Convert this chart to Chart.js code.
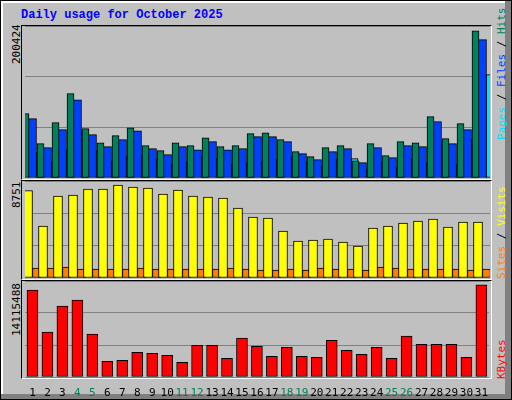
<!DOCTYPE html>
<html>
<head>
<meta charset="utf-8">
<script src="https://cdn.jsdelivr.net/npm/chart.js@4/dist/chart.umd.min.js"></script>
<style>
  body { margin: 0; }
  #page { position: relative; width: 512px; height: 400px; background: #c0c0c0; overflow: hidden;
          box-sizing: border-box; border: 1px solid #000; }
  #edge { position: absolute; left: 0; top: 0; width: 503px; height: 391px;
          border-left: 2px solid #fff; border-top: 2px solid #fff; }
  #rside { position: absolute; right: 0; top: 0; width: 6px; height: 400px; background: #808080; }
  #bside { position: absolute; left: 0; bottom: 0; width: 512px; height: 5px; background: #808080; }
  .frame { position: absolute; left: 20px; width: 469px; border: 1px solid #000; border-right-color: #fff; border-bottom-color: #fff; }
  canvas { position: absolute; }
  .title { position: absolute; left: 20px; top: 7px; font: bold 12px "Liberation Mono", monospace; color: #0000ff; }
  .vlab { position: absolute; font: 11px "DejaVu Sans Mono", monospace; white-space: nowrap;
          transform-origin: left top; transform: rotate(-90deg); }
</style>
</head>
<body>
<div id="page">
  <div id="edge"></div><div id="rside"></div><div id="bside"></div>
  <div class="title">Daily usage for October 2025</div>
  <div class="frame" style="top:24px;height:153px"></div>
  <div class="frame" style="top:179px;height:98px"></div>
  <div class="frame" style="top:279px;height:97px"></div>
  <canvas id="c1" width="465" height="152" style="left:24px;top:25px"></canvas>
  <canvas id="c2" width="465" height="97" style="left:24px;top:180px"></canvas>
  <canvas id="c3" width="465" height="117" style="left:24px;top:280px"></canvas>
  <div class="vlab" style="left:9px;top:63px">200424</div>
  <div class="vlab" style="left:9px;top:207px">8751</div>
  <div class="vlab" style="left:9px;top:335px">14115488</div>
  <div class="vlab" style="left:494px;top:139px"><span style="color:#00e0ff">Pages</span> / <span style="color:#0040ff">Files</span> / <span style="color:#00805c">Hits</span></div>
  <div class="vlab" style="left:494px;top:278px"><span style="color:#ff8000">Sites</span> / <span style="color:#ffff00">Visits</span></div>
  <div class="vlab" style="left:494px;top:378px"><span style="color:#ff0000">KBytes</span></div>
</div>
<script>
const days = ['1','2','3','4','5','6','7','8','9','10','11','12','13','14','15','16','17','18','19','20','21','22','23','24','25','26','27','28','29','30','31'];
const weekendDays = ['4','5','11','12','18','19','25','26'];

const maxHits = 200424;
const hits = [84800,45300,73000,111200,65100,46500,55900,66300,42700,36100,46500,42700,53100,41300,42700,58500,
  59700,50500,34700,28100,40100,42700,22800,45300,29500,47900,46500,81000,51900,71600,194200];
const files = [78200,40100,63700,103200,57100,41300,50500,62300,38700,30900,41300,37300,47900,37300,38700,54500,
  54500,47900,32100,24300,34700,38700,20200,40100,26900,42700,41300,74400,45300,63700,182400];
const pages = [33500,21400,37300,62300,36100,22800,28100,29500,24300,18800,21400,28100,25500,18800,20200,21400,
  24300,28100,21400,15000,24300,25500,11000,21400,13600,25500,20200,47900,17600,50500,136300];

const maxVisits = 8751;
const visits = [7880,4690,7400,7490,8030,8030,8390,8210,8120,7580,7940,7400,7310,7220,6310,5500,
  5410,4240,3340,3430,3520,3250,2890,4510,4690,4960,5140,5320,4600,5050,5050];
const sites = [900,900,990,810,810,810,810,900,810,810,810,810,810,900,810,720,
  720,810,720,900,810,810,720,990,900,810,810,810,810,720,810];

const maxKBytes = 14115488;
const kbytes = [12790000,6590000,10430000,11310000,6300000,2310000,2460000,3640000,3490000,3200000,2160000,4670000,4670000,2750000,5710000,4520000,
  3050000,4380000,3050000,2900000,5410000,3930000,3340000,4380000,2750000,6000000,4820000,4820000,4820000,2900000,13570000];

function makeChart(id, datasets, max, showTicks) {
  new Chart(document.getElementById(id), {
    type: 'bar',
    data: { labels: days, datasets: datasets },
    options: {
      responsive: false,
      animation: false,
      devicePixelRatio: 1,
      layout: { padding: 0 },
      plugins: { legend: { display: false }, tooltip: { enabled: false } },
      scales: {
        x: {
          display: showTicks,
          grid: { display: false },
          border: { display: false },
          ticks: {
            autoSkip: false, maxRotation: 0, padding: 2,
            font: { family: 'DejaVu Sans Mono', size: 11 },
            color: c => weekendDays.includes(days[c.index]) ? '#00805c' : '#000000'
          },
          afterFit: s => { if (showTicks) s.height = 21; }
        },
        y: {
          min: 0, max: max,
          ticks: { display: false, stepSize: max / 3 },
          grid: { color: '#808080', lineWidth: 1, drawTicks: false },
          border: { display: false },
          afterFit: s => { s.width = 0; }
        }
      }
    }
  });
}

function bar(data, color, thickness, catPct) {
  return { data: data, backgroundColor: color, borderColor: '#000000', borderWidth: 1,
           borderSkipped: false, barThickness: thickness, categoryPercentage: catPct };
}

window.onload = function() {
  makeChart('c1', [
    bar(hits, '#00805c', 7, 0.46),
    bar(files, '#0040ff', 8, 0.46),
    bar(pages, '#00e0ff', 7, 0.46)
  ], maxHits, false);
  makeChart('c2', [
    bar(visits, '#ffff00', 9, 0.47),
    bar(sites, '#ff8000', 8, 0.47)
  ], maxVisits, false);
  makeChart('c3', [
    bar(kbytes, '#ff0000', 11, 1)
  ], maxKBytes, true);
};
</script>
</body>
</html>
